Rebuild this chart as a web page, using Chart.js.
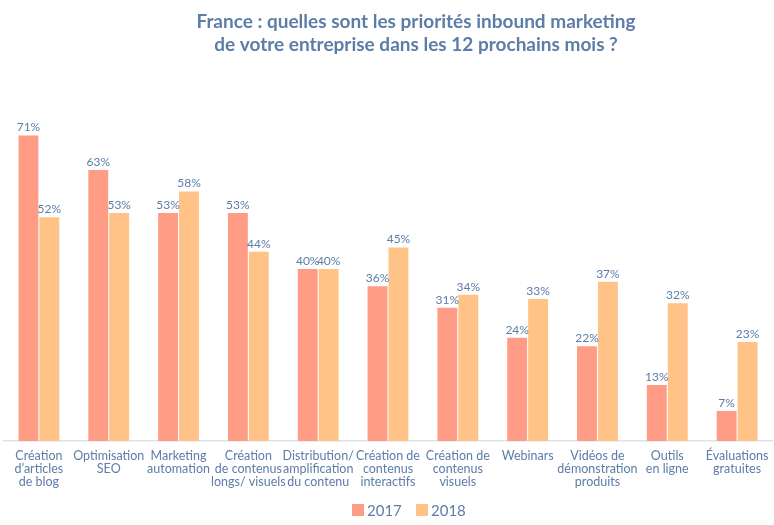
<!DOCTYPE html>
<html>
<head>
<meta charset="utf-8">
<script src="https://cdn.jsdelivr.net/npm/chart.js@4.4.0/dist/chart.umd.min.js"></script>
<style>
  html, body { margin: 0; padding: 0; background: #fff; }
  #wrap { width: 774px; height: 525px; }
</style>
</head>
<body>
<div id="wrap"><canvas id="prioChart" width="774" height="525"></canvas></div>
<script>
const categories = [
  ["Création", "d’articles", "de blog"],
  ["Optimisation", "SEO"],
  ["Marketing", "automation"],
  ["Création", "de contenus", "longs/ visuels"],
  ["Distribution/", "amplification", "du contenu"],
  ["Création de", "contenus", "interactifs"],
  ["Création de", "contenus", "visuels"],
  ["Webinars"],
  ["Vidéos de", "démonstration", "produits"],
  ["Outils", "en ligne"],
  ["Évaluations", "gratuites"]
];
const values2017 = [71, 63, 53, 53, 40, 36, 31, 24, 22, 13, 7];
const values2018 = [52, 53, 58, 44, 40, 45, 34, 33, 37, 32, 23];
const seriesNames = ["2017", "2018"];
const titleLines = [
  "France : quelles sont les priorités inbound marketing",
  "de votre entreprise dans les 12 prochains mois ?"
];

const textBlue = "#5c7da8";
const color2017 = "#ff9c85";
const color2018 = "#ffc388";
const fontFam = "Lato, 'Noto Sans', sans-serif";

// values above the bars, plus the title and legend
const decorPlugin = {
  id: "decor",
  afterDatasetsDraw(chart) {
    const ctx = chart.ctx;
    ctx.save();
    ctx.fillStyle = textBlue;
    ctx.font = "12px " + fontFam;
    ctx.textAlign = "center";
    ctx.textBaseline = "bottom";
    chart.data.datasets.forEach((ds, i) => {
      chart.getDatasetMeta(i).data.forEach((bar, j) => {
        ctx.fillText(ds.data[j] + "%", bar.x, bar.y - 2);
      });
    });

    // title
    ctx.font = "bold 19px " + fontFam;
    ctx.textBaseline = "middle";
    ctx.fillText(titleLines[0], 416, 22);
    ctx.fillText(titleLines[1], 416, 45);

    // legend
    ctx.font = "15px " + fontFam;
    ctx.textAlign = "left";
    const legendX = [352, 416];
    chart.data.datasets.forEach((ds, i) => {
      ctx.fillStyle = ds.backgroundColor;
      ctx.fillRect(legendX[i], 504, 12, 12);
      ctx.fillStyle = textBlue;
      ctx.fillText(ds.label, legendX[i] + 15, 511);
    });
    ctx.restore();
  }
};

new Chart(document.getElementById("prioChart"), {
  type: "bar",
  data: {
    labels: categories,
    datasets: [
      { label: seriesNames[0], data: values2017, backgroundColor: color2017 },
      { label: seriesNames[1], data: values2018, backgroundColor: color2018 }
    ]
  },
  options: {
    responsive: false,
    animation: false,
    layout: { padding: { top: 84, left: 4, right: 2, bottom: 37 } },
    datasets: {
      bar: { categoryPercentage: 0.6, barPercentage: 0.95 }
    },
    plugins: {
      legend: { display: false },
      title: { display: false },
      tooltip: { enabled: false }
    },
    scales: {
      x: {
        grid: { display: false },
        border: { color: "#dde3ea", width: 1.5 },
        ticks: {
          color: textBlue,
          font: { family: fontFam, size: 12.5, lineHeight: 1.04 },
          maxRotation: 0,
          autoSkip: false,
          padding: 0
        }
      },
      y: {
        display: false,
        min: 0,
        max: 83
      }
    }
  },
  plugins: [decorPlugin]
});
</script>
</body>
</html>
